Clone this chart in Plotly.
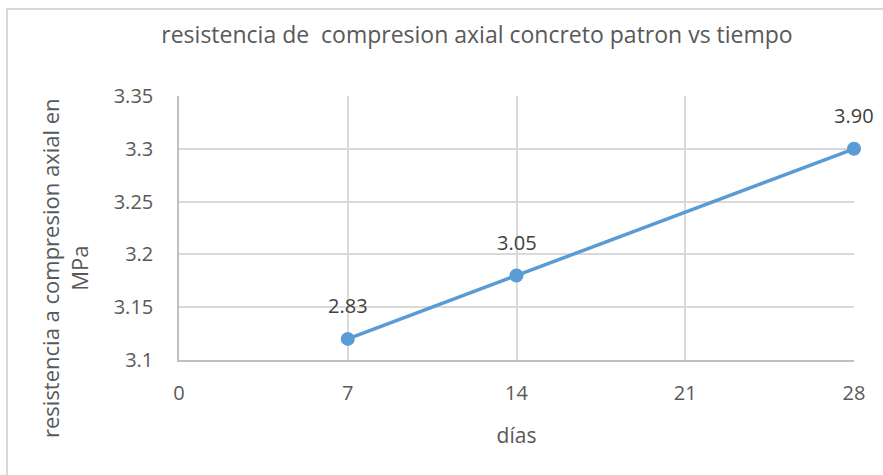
import plotly.graph_objects as go

# Data
dias = [7, 14, 28]
resistencia = [3.12, 3.18, 3.30]
etiquetas = ["2.83", "3.05", "3.90"]

x_ticks = [0, 7, 14, 21, 28]
y_ticks = [3.1, 3.15, 3.2, 3.25, 3.3, 3.35]
y_tick_text = ["3.1", "3.15", "3.2", "3.25", "3.3", "3.35"]

FONT = "Open Sans, sans-serif"
TXT = "#595959"
BLUE = "#5b9bd5"

W, H = 883, 475
L, R, T, B = 179, 29, 96, 115
pw, ph = W - L - R, H - T - B


def px_to_paper_x(p):
    return (p - L) / pw


def px_to_paper_y(p):
    return (H - B - p) / ph


fig = go.Figure()
fig.add_trace(go.Scatter(
    x=dias, y=resistencia,
    mode="lines+markers",
    line=dict(color=BLUE, width=3.5),
    marker=dict(color=BLUE, size=14),
    cliponaxis=False,
    showlegend=False,
))

# data labels above each point
for xv, yv, lab in zip(dias, resistencia, etiquetas):
    fig.add_annotation(
        x=xv, y=yv, text=lab, showarrow=False,
        xanchor="center", yanchor="middle", yshift=33,
        font=dict(family=FONT, size=20, color="#404040"),
    )

# outer chart frame
fig.add_shape(
    type="rect", xref="paper", yref="paper",
    x0=px_to_paper_x(7), x1=px_to_paper_x(W + 5),
    y0=px_to_paper_y(H + 5), y1=px_to_paper_y(9),
    line=dict(color="#d9d9d9", width=2), layer="below",
)

# vertical axis title, centred on the chart area
fig.add_annotation(
    text="resistencia a compresion axial en<br>MPa",
    xref="paper", yref="paper",
    x=px_to_paper_x(64), y=px_to_paper_y(268),
    xanchor="center", yanchor="middle",
    textangle=-90, showarrow=False,
    font=dict(family=FONT, size=22, color=TXT),
)

fig.update_layout(
    width=W, height=H,
    margin=dict(l=L, r=R, t=T, b=B),
    paper_bgcolor="white", plot_bgcolor="white",
    font=dict(family=FONT, color=TXT, size=19),
    title=dict(
        text="resistencia de  compresion axial concreto patron vs tiempo",
        x=477 / W, xanchor="center",
        y=1 - 35 / H, yanchor="middle",
        font=dict(family=FONT, size=23, color=TXT),
    ),
    xaxis=dict(
        range=[0, 28], tickvals=x_ticks, ticktext=[str(v) for v in x_ticks],
        showgrid=True, gridcolor="#d9d9d9", gridwidth=1.5,
        showline=True, linecolor="#bfbfbf", linewidth=1.5,
        zeroline=False, ticks="", ticklabelstandoff=14,
        tickfont=dict(size=20, color=TXT),
        title=dict(text="días", standoff=24, font=dict(size=21, color=TXT)),
    ),
    yaxis=dict(
        range=[3.1, 3.35], tickvals=y_ticks, ticktext=y_tick_text,
        showgrid=True, gridcolor="#d9d9d9", gridwidth=1.5,
        showline=True, linecolor="#bfbfbf", linewidth=1.5,
        zeroline=False, ticks="", ticklabelstandoff=20,
        tickfont=dict(size=20, color=TXT),
    ),
)

fig.write_html("out.html")
